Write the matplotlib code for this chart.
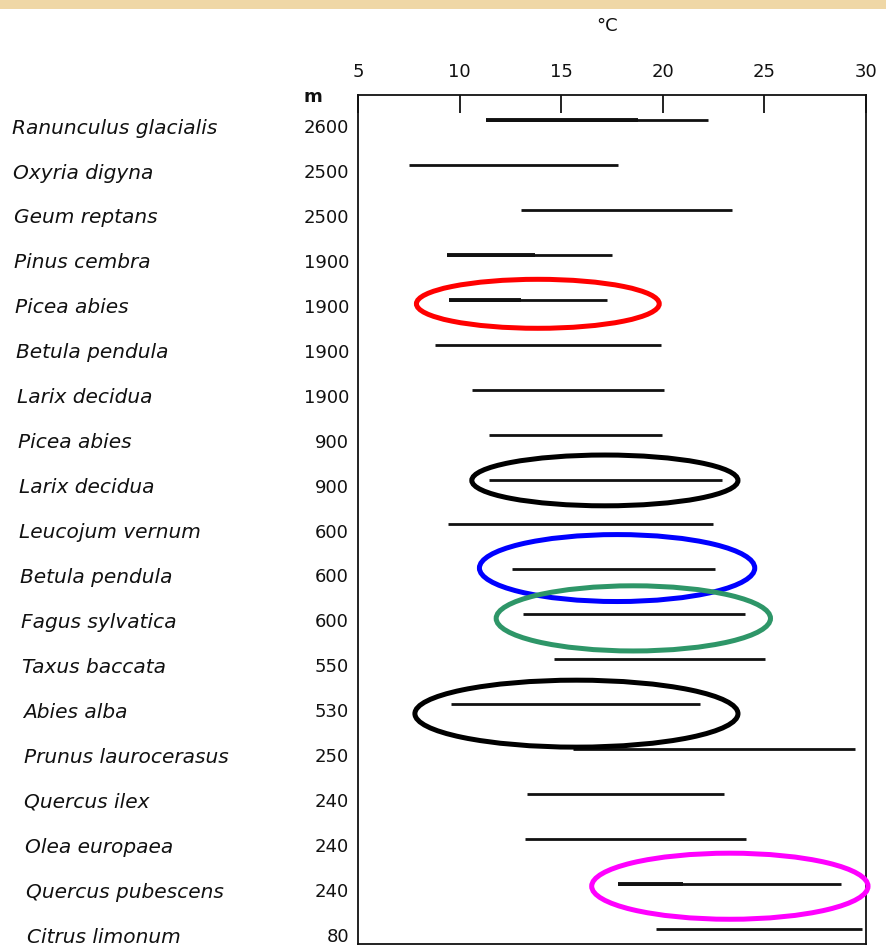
import matplotlib
matplotlib.use("Agg")
import matplotlib.pyplot as plt
from matplotlib.patches import Ellipse, Rectangle
import numpy as np

# --- data ---
species = ["Ranunculus glacialis", "Oxyria digyna", "Geum reptans", "Pinus cembra",
           "Picea abies", "Betula pendula", "Larix decidua", "Picea abies",
           "Larix decidua", "Leucojum vernum", "Betula pendula", "Fagus sylvatica",
           "Taxus baccata", "Abies alba", "Prunus laurocerasus", "Quercus ilex",
           "Olea europaea", "Quercus pubescens", "Citrus limonum"]
altitude = [2600, 2500, 2500, 1900, 1900, 1900, 1900, 900, 900, 600,
            600, 600, 550, 530, 250, 240, 240, 240, 80]
t_low = [11.3, 7.5, 13.0, 9.4, 9.5, 8.8, 10.6, 11.45, 11.45, 9.45,
         12.6, 13.1, 14.65, 9.6, 15.6, 13.3, 13.2, 17.8, 19.65]
t_high = [22.2, 17.8, 23.4, 17.5, 17.25, 19.9, 20.05, 19.95, 22.9, 22.45,
          22.55, 24.05, 25.05, 21.85, 29.45, 23.0, 24.1, 28.75, 29.8]
# end of the heavier left-hand part of a range (nan = uniform line)
t_thick = [18.8, np.nan, np.nan, 13.7, 13.0, np.nan, np.nan, np.nan, np.nan, np.nan,
           np.nan, np.nan, np.nan, np.nan, np.nan, np.nan, np.nan, 21.0, np.nan]
ticks = [5, 10, 15, 20, 25, 30]

# hand-drawn highlight rings: row, centre (degC), width (degC), height (rows), colour
ring_row = [4, 8, 10, 11, 13, 17]
ring_x = [13.85, 17.15, 17.75, 18.55, 15.75, 23.3]
ring_w = [11.95, 13.1, 13.55, 13.5, 15.9, 13.6]
ring_h = [1.09, 1.13, 1.49, 1.45, 1.49, 1.47]
ring_dy = [0.09, 0.02, -0.03, 0.09, 0.21, 0.05]
ring_color = ["#ff0000", "#000000", "#0000ff", "#2e9668", "#000000", "#ff00ff"]

W, H = 887, 948
fig = plt.figure(figsize=(W / 100, H / 100), dpi=100)
fig.patch.set_facecolor("white")

# tan strip of the scan at the very top
fig.patches.append(Rectangle((0, 1 - 9 / H), 1, 9 / H, transform=fig.transFigure,
                             facecolor="#efd7a6", edgecolor="none"))

# axes box in pixel terms
left, right, top, bottom = 358, 866, 95, 944
row0, row_step = 120, 44.94
ax = fig.add_axes([left / W, 1 - bottom / H, (right - left) / W, (bottom - top) / H])
ax.set_xlim(5, 30)
ax.set_ylim((bottom - row0) / row_step, (top - row0) / row_step)

rows = np.arange(len(species))
ink = "#111111"
for i in rows:
    ax.plot([t_low[i], t_high[i]], [i, i], color=ink, lw=2.0, solid_capstyle="butt")
    if not np.isnan(t_thick[i]):
        ax.plot([t_low[i], t_thick[i]], [i, i], color=ink, lw=2.8, solid_capstyle="butt")

for r, cx, w, h, dy, c in zip(ring_row, ring_x, ring_w, ring_h, ring_dy, ring_color):
    ax.add_patch(Ellipse((cx, r + dy), w, h, fill=False, edgecolor=c, lw=3.6,
                         clip_on=False, zorder=5))

ax.xaxis.tick_top()
ax.set_xticks(ticks)
ax.set_xticklabels([str(t) for t in ticks])
ax.tick_params(axis="x", direction="in", length=13, width=1.3, pad=10,
               labelsize=13, colors=ink)
ax.set_yticks([])
for s in ax.spines.values():
    s.set_linewidth(1.3)
    s.set_color(ink)

# left-hand labels (scan is slightly skewed, names drift right going down)
n = len(species)
for i in rows:
    y = i + 0.18
    x_name = (12 + i * 15 / (n - 1) - left) / (right - left)
    ax.text(x_name, y, species[i], transform=ax.get_yaxis_transform(),
            ha="left", va="center", fontsize=14.5, style="italic",
            family="DejaVu Sans", color=ink, clip_on=False)
    ax.text((349 - left) / (right - left), y, str(altitude[i]),
            transform=ax.get_yaxis_transform(), ha="right", va="center",
            fontsize=13, family="DejaVu Sans", color=ink, clip_on=False)

fig.text(313 / W, 1 - 97 / H, "m", ha="center", va="center", fontsize=13,
         fontweight="bold", color=ink)
fig.text(607 / W, 1 - 26 / H, "°C", ha="center", va="center", fontsize=13, color=ink)

fig.savefig("out.png", dpi=100)
